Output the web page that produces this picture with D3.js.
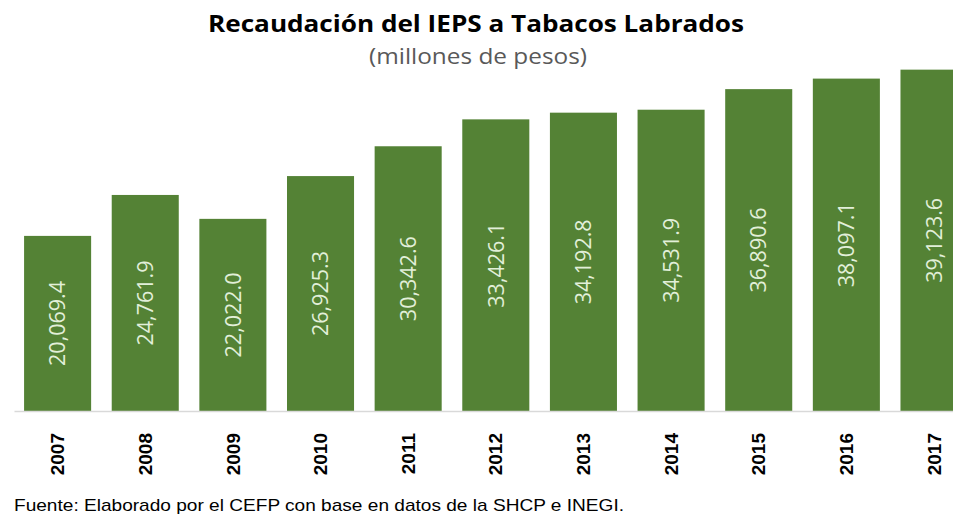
<!DOCTYPE html>
<html>
<head>
<meta charset="utf-8">
<script src="https://cdn.jsdelivr.net/npm/d3@7"></script>
<style>
	body { margin: 0; background: #fff; }
	svg { display: block; }
</style>
</head>
<body>
<svg id="chart"></svg>
<script>
const years = ['2007', '2008', '2009', '2010', '2011', '2012', '2013', '2014', '2015', '2016', '2017'];
const values = [20069.4, 24761.9, 22022.0, 26925.3, 30342.6, 33426.1, 34192.8, 34531.9, 36890.6, 38097.1, 39123.6];

const title = 'Recaudación del IEPS a Tabacos Labrados';
const subtitle = '(millones de pesos)';
const source = 'Fuente: Elaborado por el CEFP con base en datos de la SHCP e INEGI.';

const totalWidth = 953;
const totalHeight = 516;
const BAR_COLOR = '#548235';
const LABEL_COLOR = '#e2efd9';

const svg = d3.select('#chart')
	.attr('width', totalWidth)
	.attr('height', totalHeight);

// bars start at x=24 with a step of ~87.6, last one is clipped by the edge
const xScale = d3.scaleBand(years, [14, 14 + 87.6 * years.length])
	.paddingInner(0.235)
	.paddingOuter(0.115);
const yScale = d3.scaleLinear([0, 40000], [411, 62]);

/** TITLES ******************************************************************/
svg.append('text')
	.attr('x', 476)
	.attr('y', 32)
	.attr('text-anchor', 'middle')
	.attr('font-family', 'Open Sans, sans-serif')
	.attr('font-weight', 'bold')
	.attr('font-size', 24)
	.attr('fill', '#000')
	.attr('textLength', 536)
	.attr('lengthAdjust', 'spacingAndGlyphs')
	.text(title);

svg.append('text')
	.attr('x', 478)
	.attr('y', 64)
	.attr('text-anchor', 'middle')
	.attr('font-family', 'Open Sans, sans-serif')
	.attr('font-size', 21)
	.attr('fill', '#595959')
	.attr('textLength', 218)
	.attr('lengthAdjust', 'spacingAndGlyphs')
	.text(subtitle);

/** BARS ********************************************************************/
const barG = svg.append('g');

barG.selectAll('.bar')
	.data(values)
	.enter()
	.append('rect')
	.attr('class', 'bar')
	.attr('x', (d, i) => xScale(years[i]))
	.attr('y', (d) => yScale(d))
	.attr('width', xScale.bandwidth())
	.attr('height', (d) => yScale(0) - yScale(d))
	.attr('fill', BAR_COLOR);

const fmt = d3.format(',.1f');
barG.selectAll('.bar-label')
	.data(values)
	.enter()
	.append('text')
	.attr('class', 'bar-label')
	.attr('transform', (d, i) => {
		const cx = xScale(years[i]) + xScale.bandwidth() / 2;
		const cy = (yScale(d) + yScale(0)) / 2;
		return `translate(${cx}, ${cy}) rotate(-90)`;
	})
	.attr('text-anchor', 'middle')
	.attr('dy', '0.35em')
	.attr('font-family', 'Open Sans, sans-serif')
	.attr('font-size', 22)
	.attr('fill', LABEL_COLOR)
	.attr('textLength', 85)
	.attr('lengthAdjust', 'spacingAndGlyphs')
	.text((d) => fmt(d));

/** BOTTOM AXIS *************************************************************/
const bottomAxis = d3.axisBottom(xScale).tickSize(0).tickSizeOuter(0);
const axisG = svg.append('g')
	.attr('transform', `translate(0, ${yScale(0)})`)
	.call(bottomAxis);

axisG.select('.domain')
	.attr('stroke', '#d9d9d9')
	.attr('stroke-width', 1.5);

axisG.selectAll('.tick text')
	.attr('transform', 'translate(0, 22) rotate(-90)')
	.attr('text-anchor', 'end')
	.attr('dy', '0.35em')
	.attr('x', 0)
	.attr('y', 0)
	.attr('font-family', 'Liberation Sans, Arial, sans-serif')
	.attr('font-weight', 'bold')
	.attr('font-size', 19)
	.attr('fill', '#000');

/** SOURCE ******************************************************************/
svg.append('text')
	.attr('x', 14)
	.attr('y', 511)
	.attr('font-family', 'Liberation Sans Narrow, Arial Narrow, sans-serif')
	.attr('font-size', 17)
	.attr('fill', '#000')
	.attr('textLength', 610)
	.attr('lengthAdjust', 'spacingAndGlyphs')
	.text(source);
</script>
</body>
</html>
